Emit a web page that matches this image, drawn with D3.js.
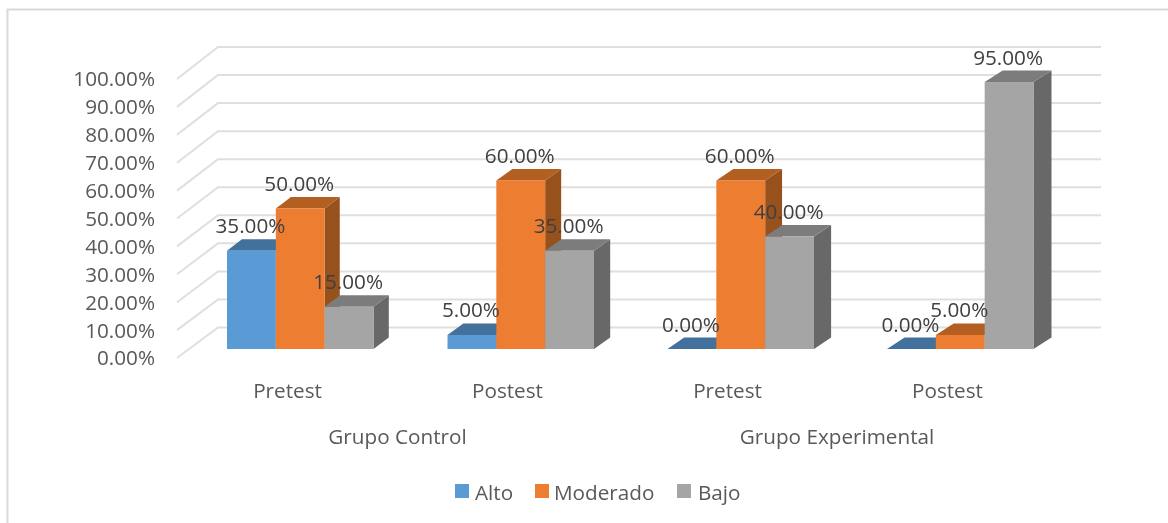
<!DOCTYPE html>
<html><head><meta charset="utf-8">
<script src="https://cdn.jsdelivr.net/npm/d3@7/dist/d3.min.js"></script>
<style>html,body{margin:0;padding:0;background:#fff}svg{display:block;filter:blur(0.35px)}text{font-family:"Open Sans","Noto Sans",sans-serif}</style>
</head><body><svg id="c" width="1168" height="523"></svg>
<script>
const groups = ["Grupo Control","Grupo Experimental"];
const phases = ["Pretest","Postest","Pretest","Postest"];
const seriesNames = ["Alto","Moderado","Bajo"];
const alto = [35,5,0,0];
const moderado = [50,60,60,5];
const bajo = [15,35,40,95];
const yTicks = [0,10,20,30,40,50,60,70,80,90,100];
const faces = {
  Alto:["#5b9bd5","#41719c","#3a6690"],
  Moderado:["#ed7d31","#b45f22","#97511c"],
  Bajo:["#a5a5a5","#7c7c7c","#686868"]
};
const FS = 20.7;
const svg = d3.select("#c");
const yFront = d3.scaleLinear().domain([0,100]).range([349,68]);
const yBack = d3.scaleLinear().domain([0,100]).range([327.5,47]);
const yAxisPos = d3.scaleLinear().domain([0,100]).range([358,79]);
const x1 = d3.scaleBand().domain(seriesNames).range([0,146.5]);
const groupStart = i => [227,447.5,667.5,887][i];
const depthX = d3.scaleLinear().domain([374,1033]).range([15.3,18]);
const depthY = 11.5;

// outer frame
svg.append("path").attr("d","M7.5,523V9.5H1168").attr("fill","none").attr("stroke","#d9d9d9").attr("stroke-width",2);

// walls / gridlines
svg.append("g").selectAll("path").data(yTicks).join("path")
  .attr("fill","none").attr("stroke","#dfdfdf").attr("stroke-width",2)
  .attr("d",t=>`M177,${yAxisPos(t)}L218,${yBack(t)}H1101`);

// axis labels
svg.append("g").selectAll("text").data(yTicks).join("text")
  .attr("x",155).attr("y",t=>yAxisPos(t)).attr("dy","0.36em").attr("text-anchor","end")
  .attr("font-size",FS).attr("fill","#595959").text(t=>t.toFixed(2)+"%");

// bars
const values = {Alto:alto,Moderado:moderado,Bajo:bajo};
const labels = [];
phases.forEach((p,i)=>{
  seriesNames.forEach((s,j)=>{
    const v = values[s][i];
    const l = groupStart(i)+x1(s), w = x1.bandwidth(), r = l+w;
    const top = yFront(v), base = yFront(0);
    const dx = depthX(r), dy = depthY;
    const g = svg.append("g").datum(v);
    g.append("path").attr("fill",faces[s][2]).attr("d",`M${r},${top}l${dx},${-dy}V${base-dy}L${r},${base}Z`);
    g.append("path").attr("fill",faces[s][1]).attr("d",`M${l},${top}l${dx},${-dy}H${r+dx}L${r},${top}Z`);
    g.append("rect").attr("x",l).attr("y",top).attr("width",w).attr("height",Math.max(0,base-top)).attr("fill",faces[s][0]);
    labels.push({v,x:l+w/2-1,y:top-17.5});
  });
});
// data labels on top of bars
svg.append("g").selectAll("text").data(labels).join("text")
  .attr("x",d=>d.x).attr("y",d=>d.y).attr("text-anchor","middle")
  .attr("font-size",FS).attr("fill","#404040").text(d=>d.v.toFixed(2)+"%");

// category labels
svg.append("g").selectAll("text").data(phases).join("text")
  .attr("x",(d,i)=>[287.5,507.5,727.5,947.5][i]).attr("y",397.5).attr("text-anchor","middle")
  .attr("font-size",FS).attr("fill","#595959").text(d=>d);
svg.append("g").selectAll("text").data(groups).join("text")
  .attr("x",(d,i)=>[397.5,837][i]).attr("y",444).attr("text-anchor","middle")
  .attr("font-size",FS).attr("fill","#595959").text(d=>d);

// legend
const lx = [455,535,677], tx=[475,554,698];
seriesNames.forEach((s,i)=>{
  svg.append("rect").attr("x",lx[i]).attr("y",484).attr("width",14).attr("height",14).attr("fill",faces[s][0]);
  svg.append("text").attr("x",tx[i]).attr("y",499.5).attr("font-size",FS).attr("fill","#595959").text(s);
});
</script></body></html>
